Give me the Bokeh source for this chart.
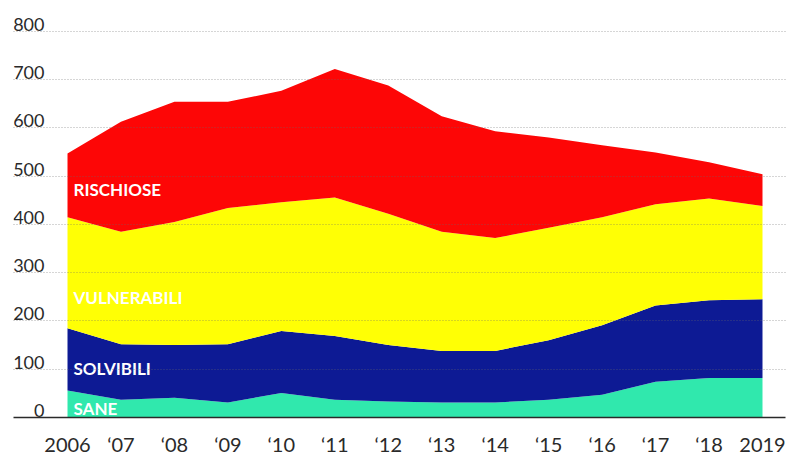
from bokeh.plotting import figure
from bokeh.models import ColumnDataSource, FixedTicker, Range1d
from bokeh.core.properties import value
from bokeh.embed import file_html
from bokeh.resources import INLINE

years = [2006, 2007, 2008, 2009, 2010, 2011, 2012, 2013, 2014, 2015, 2016, 2017, 2018, 2019]
year_labels = ["2006", "\u201807", "\u201808", "\u201809", "\u201810", "\u201811", "\u201812",
               "\u201813", "\u201814", "\u201815", "\u201816", "\u201817", "\u201818", "2019"]

sane        = [56, 37, 41, 31, 51, 37, 33, 31, 31, 37, 47, 74, 82, 82]
solvibili   = [129, 115, 109, 121, 128, 132, 117, 107, 107, 123, 144, 158, 161, 163]
vulnerabili = [230, 233, 255, 282, 267, 287, 272, 247, 234, 233, 224, 210, 211, 193]
rischiose   = [132, 228, 249, 220, 231, 266, 266, 239, 221, 187, 149, 107, 75, 66]

series_names = ["sane", "solvibili", "vulnerabili", "rischiose"]
series_labels = ["SANE", "SOLVIBILI", "VULNERABILI", "RISCHIOSE"]
series_colors = ["#30e8ad", "#0d1a94", "#ffff05", "#fd0606"]
label_y = [18, 101, 249, 473]

y_ticks = [0, 100, 200, 300, 400, 500, 600, 700, 800]
y_tick_labels = [str(v) for v in y_ticks]

FONT = "Lato"

src = ColumnDataSource(dict(year=years, sane=sane, solvibili=solvibili,
                            vulnerabili=vulnerabili, rischiose=rischiose))

x_start = 2006 - 54 / 53.46
x_end = 2019 + 23 / 53.46

p = figure(width=793, height=458, output_backend="svg", toolbar_location=None,
           x_range=Range1d(x_start, x_end), y_range=Range1d(0, 864),
           min_border_left=13, min_border_right=8, min_border_top=0, min_border_bottom=38)
p.outline_line_color = None
p.background_fill_color = "white"
p.border_fill_color = "white"

p.varea_stack(stackers=series_names, x="year", color=series_colors, source=src)

# grid (drawn over the areas, faint dotted)
p.xgrid.visible = False
p.ygrid.ticker = FixedTicker(ticks=y_ticks)
p.ygrid.grid_line_color = "#6a6a6a"
p.ygrid.grid_line_alpha = 0.55
p.ygrid.grid_line_dash = "1 2"
p.ygrid.grid_line_width = 1
p.ygrid.level = "overlay"

# axes
p.yaxis.visible = False
xa = p.xaxis[0]
xa.ticker = FixedTicker(ticks=years)
xa.major_label_overrides = {y: l for y, l in zip(years, year_labels)}
xa.major_tick_line_color = None
xa.minor_tick_line_color = None
xa.major_tick_out = 0
xa.major_tick_in = 0
xa.axis_line_color = "#2a2a2a"
xa.axis_line_width = 1.5
xa.major_label_standoff = 14
xa.major_label_text_font = FONT
xa.major_label_text_font_size = "20px"
xa.major_label_text_color = "#2a2a2a"

# y tick labels above the gridlines
ysrc = ColumnDataSource(dict(x=[x_start] * len(y_ticks), y=y_ticks, t=y_tick_labels))
p.text(x="x", y="y", text="t", source=ysrc, x_offset=31, y_offset=-7,
       text_align="right", text_baseline="alphabetic",
       text_font=value(FONT), text_font_size="18px", text_color="#2a2a2a")

# series labels
lsrc = ColumnDataSource(dict(x=[years[0]] * 4, y=label_y, t=series_labels))
p.text(x="x", y="y", text="t", source=lsrc, x_offset=6,
       text_align="left", text_baseline="middle",
       text_font=value(FONT), text_font_style="bold", text_font_size="17px",
       text_color="white")

open("out.html", "w").write(file_html(p, INLINE))
